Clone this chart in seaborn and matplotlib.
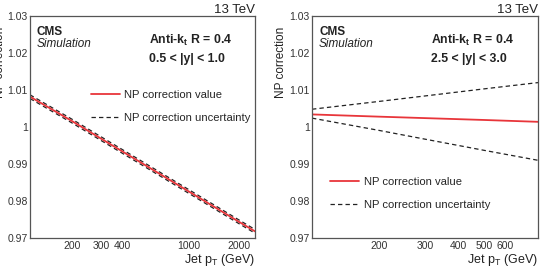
import numpy as np
import pandas as pd
import matplotlib
matplotlib.use('Agg')
import matplotlib.pyplot as plt
import seaborn as sns
from matplotlib.ticker import FixedLocator, NullFormatter, FixedFormatter

# left panel: 0.5 < |y| < 1.0
pt_a = [112, 200, 300, 500, 1000, 2000, 2500]
val_a = [1.0082, 1.0016, 0.9968, 0.9908, 0.9826, 0.9744, 0.9718]
up_a = [1.0087, 1.0021, 0.9973, 0.9913, 0.9831, 0.9749, 0.9723]
dn_a = [1.0077, 1.0011, 0.9963, 0.9903, 0.9821, 0.9739, 0.9713]

# right panel: 2.5 < |y| < 3.0
pt_b = [112, 200, 300, 500, 800]
val_b = [1.0034, 1.0028, 1.0024, 1.0019, 1.0014]
up_b = [1.0048, 1.0069, 1.0084, 1.0103, 1.0120]
dn_b = [1.0024, 0.9991, 0.9967, 0.9937, 0.9910]

ytick_vals = [0.97, 0.98, 0.99, 1.00, 1.01, 1.02, 1.03]
ytick_labels = ['0.97', '0.98', '0.99', '1', '1.01', '1.02', '1.03']

sns.set_style('white')
plt.rcParams['font.family'] = ['Liberation Sans', 'DejaVu Sans']
plt.rcParams['mathtext.fontset'] = 'custom'
plt.rcParams['mathtext.rm'] = 'Liberation Sans'
plt.rcParams['mathtext.it'] = 'Liberation Sans:italic'
plt.rcParams['mathtext.bf'] = 'Liberation Sans:bold'

fig = plt.figure(figsize=(5.46, 2.71), dpi=100)
W, H = 546, 271
ax1 = fig.add_axes([30 / W, 33 / H, 225 / W, 222 / H])
ax2 = fig.add_axes([312 / W, 33 / H, 226 / W, 222 / H])

red = '#e8353a'
txt = '#222222'
panels = [
    (ax1, pt_a, val_a, up_a, dn_a, (112, 2500), [200, 300, 400, 1000, 2000],
     '0.5 < |y| < 1.0', (0.27, 0.52)),
    (ax2, pt_b, val_b, up_b, dn_b, (112, 800), [200, 300, 400, 500, 600],
     '2.5 < |y| < 3.0', (0.08, 0.125)),
]

for ax, pt, val, up, dn, xlim, xt, ylab, legpos in panels:
    df = pd.DataFrame({'pt': pt, 'val': val, 'up': up, 'dn': dn})
    sns.lineplot(data=df, x='pt', y='up', ax=ax, color=txt, lw=0.9,
                 linestyle=(0, (3.5, 2.5)), label='NP correction uncertainty')
    sns.lineplot(data=df, x='pt', y='dn', ax=ax, color=txt, lw=0.9,
                 linestyle=(0, (3.5, 2.5)))
    sns.lineplot(data=df, x='pt', y='val', ax=ax, color=red, lw=1.3,
                 label='NP correction value')
    ax.set_xscale('log')
    ax.set_xlim(*xlim)
    ax.set_ylim(0.97, 1.03)

    ax.set_yticks(ytick_vals)
    ax.set_yticklabels(ytick_labels)
    ax.yaxis.set_minor_locator(FixedLocator(np.arange(0.97, 1.0301, 0.002)))
    ax.xaxis.set_major_locator(FixedLocator(xt))
    ax.xaxis.set_major_formatter(FixedFormatter([str(v) for v in xt]))
    minor = [v for d in (100, 1000) for v in np.arange(1, 10) * d
             if xlim[0] <= v <= xlim[1] and v not in xt]
    ax.xaxis.set_minor_locator(FixedLocator(minor))
    ax.xaxis.set_minor_formatter(NullFormatter())
    ax.tick_params(which='both', direction='in', top=False, right=False,
                   labelsize=7.5, colors='#333333', pad=1.5)
    ax.tick_params(which='major', length=5, width=0.8)
    ax.tick_params(which='minor', length=2.5, width=0.7)
    ax.tick_params(axis='x', which='major', pad=2)
    for s in ax.spines.values():
        s.set_color('#555555')
        s.set_linewidth(0.9)

    ax.set_xlabel('')
    ax.set_ylabel('')
    ax.text(1.0, -0.098, 'Jet p$_{\\mathrm{T}}$ (GeV)', transform=ax.transAxes,
            ha='right', va='center', fontsize=9, color=txt)
    ax.text(-0.135, 0.95, 'NP correction', transform=ax.transAxes, rotation=90,
            ha='center', va='top', fontsize=8.5, color=txt)

    ax.text(1.0, 1.0, '13 TeV', transform=ax.transAxes, ha='right',
            va='bottom', fontsize=9.5, color=txt)
    ax.text(0.031, 0.928, 'CMS', transform=ax.transAxes, ha='left',
            va='center', fontsize=8.5, fontweight='bold', color=txt)
    ax.text(0.031, 0.872, 'Simulation', transform=ax.transAxes, ha='left',
            va='center', fontsize=8.5, style='italic', color=txt)
    ax.text(0.527, 0.89, 'Anti-k$_{\\mathbf{t}}$ R = 0.4', transform=ax.transAxes,
            ha='left', va='center', fontsize=8.8, fontweight='bold', color=txt)
    ax.text(0.527, 0.806, ylab, transform=ax.transAxes, ha='left',
            va='center', fontsize=8.8, fontweight='bold', color=txt)

    h, l = ax.get_legend_handles_labels()
    ax.legend(h[::-1], l[::-1], loc='lower left', bbox_to_anchor=legpos,
              frameon=False, fontsize=8.1, handlelength=2.6, handletextpad=0.4,
              labelspacing=1.15, borderaxespad=0, borderpad=0)

fig.savefig('out.png', dpi=100)
